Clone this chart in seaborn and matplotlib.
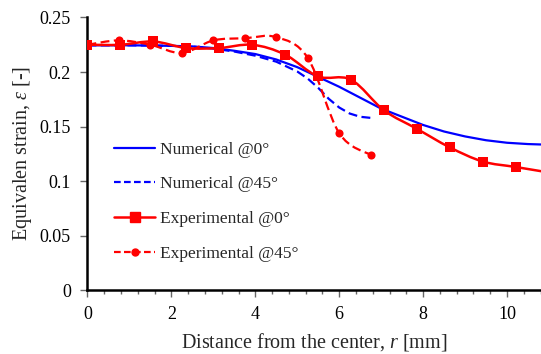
import numpy as np
import pandas as pd
import seaborn as sns
import matplotlib
matplotlib.use("Agg")
import matplotlib.pyplot as plt
from matplotlib.path import Path
from matplotlib.patches import PathPatch
from matplotlib.lines import Line2D
from matplotlib.ticker import MultipleLocator

# ---- data -------------------------------------------------------------
num0_r = [0, 0.5, 1, 1.5, 2, 2.5, 3, 3.5, 4, 4.5, 5, 5.5, 6, 6.5, 7,
          7.5, 8, 8.5, 9, 9.5, 10, 10.5, 10.9]
num0_eps = [0.2245, 0.2245, 0.2245, 0.2243, 0.2240, 0.2235, 0.2220, 0.2195,
            0.2165, 0.2115, 0.2045, 0.1955, 0.1865, 0.1765, 0.1665, 0.1590,
            0.1515, 0.1455, 0.1410, 0.1375, 0.1352, 0.1340, 0.1335]

num45_r = [0, 0.5, 1, 1.5, 2, 2.5, 3, 3.5, 4, 4.5, 5, 5.25, 5.5, 5.75,
           6, 6.25, 6.5, 6.75]
num45_eps = [0.2245, 0.2245, 0.2245, 0.2243, 0.2240, 0.2233, 0.2215, 0.2188,
             0.2150, 0.2095, 0.2005, 0.1940, 0.1855, 0.1755, 0.1675, 0.1620,
             0.1590, 0.1580]

exp0_r = [0, 0.785, 1.57, 2.355, 3.14, 3.925, 4.71, 5.495, 6.28, 7.065,
          7.85, 8.635, 9.42, 10.205, 10.99]
exp0_eps = [0.225, 0.225, 0.228, 0.222, 0.222, 0.225, 0.216, 0.196, 0.193,
            0.165, 0.148, 0.131, 0.118, 0.113, 0.108]

exp45_r = [0, 0.75, 1.5, 2.25, 3.0, 3.75, 4.5, 5.25, 6.0, 6.75]
exp45_eps = [0.225, 0.229, 0.225, 0.2175, 0.229, 0.231, 0.232, 0.213,
             0.144, 0.124]

x_ticks = [0, 2, 4, 6, 8, 10]
y_ticks = [0, 0.05, 0.1, 0.15, 0.2, 0.25]
y_tick_labels = ["0", "0.05", "0.1", "0.15", "0.2", "0.25"]

labels = ["Numerical @0°", "Numerical @45°",
          "Experimental @0°", "Experimental @45°"]

BLUE = "#0000FF"
RED = "#FF0000"

# ---- style ------------------------------------------------------------
sns.set_theme(style="ticks")
plt.rcParams["font.family"] = ["Liberation Serif", "DejaVu Serif"]
plt.rcParams["mathtext.fontset"] = "custom"
plt.rcParams["mathtext.rm"] = "Liberation Serif"
plt.rcParams["mathtext.it"] = "Liberation Serif:italic"
TICK_FS = 13
TITLE_FS = 14.5
LEGEND_FS = 12.5

fig = plt.figure(figsize=(5.41, 3.54), dpi=100)
ax = fig.add_axes([0.1617, 0.18, 1 - 0.1617, 0.7706])


def smooth_path(xs, ys):
    """Cubic Bezier path through the points (Catmull-Rom style smoothing)."""
    p = np.column_stack([xs, ys]).astype(float)
    n = len(p)
    verts = [p[0]]
    codes = [Path.MOVETO]
    for i in range(n - 1):
        p0 = p[i - 1] if i > 0 else p[i]
        p1 = p[i]
        p2 = p[i + 1]
        p3 = p[i + 2] if i + 2 < n else p[i + 1]
        c1 = p1 + (p2 - p0) / 6.0
        c2 = p2 - (p3 - p1) / 6.0
        verts += [c1, c2, p2]
        codes += [Path.CURVE4] * 3
    return Path(np.array(verts), codes)


# numerical curves
sns.lineplot(x=num0_r, y=num0_eps, ax=ax, color=BLUE, lw=1.6, sort=False)
sns.lineplot(x=num45_r, y=num45_eps, ax=ax, color=BLUE, lw=1.6, sort=False,
             linestyle=(0, (4, 2)))

# experimental curves: smoothed line + markers
ax.add_patch(PathPatch(smooth_path(exp0_r, exp0_eps), fill=False,
                       edgecolor=RED, lw=1.8, zorder=3))
ax.add_patch(PathPatch(smooth_path(exp45_r, exp45_eps), fill=False,
                       edgecolor=RED, lw=1.6, linestyle=(0, (4, 2)), zorder=3))
sns.scatterplot(x=exp0_r, y=exp0_eps, ax=ax, marker="s", s=62, color=RED,
                edgecolor=RED, linewidth=0, zorder=4)
sns.scatterplot(x=exp45_r, y=exp45_eps, ax=ax, marker="o", s=34, color=RED,
                edgecolor=RED, linewidth=0, zorder=4)

# ---- axes -------------------------------------------------------------
ax.set_xlim(0, 10.81)
ax.set_ylim(0, 0.25)
ax.set_xticks(x_ticks)
ax.xaxis.set_minor_locator(MultipleLocator(0.4))
ax.set_yticks(y_ticks)
ax.set_yticklabels(y_tick_labels)
ax.tick_params(axis="both", which="major", direction="out", length=5,
               width=1.0, color="#666666", labelsize=TICK_FS,
               labelcolor="black")
ax.tick_params(axis="x", which="major", pad=6)
ax.tick_params(axis="y", which="major", pad=7)
ax.tick_params(axis="x", which="minor", direction="out", length=3,
               width=1.0, color="#666666")
for side in ("top", "right"):
    ax.spines[side].set_visible(False)
for side in ("left", "bottom"):
    ax.spines[side].set_linewidth(1.8)
    ax.spines[side].set_color("black")

ax.set_xlabel("Distance from the center, $r$ [mm]", fontsize=TITLE_FS,
              labelpad=6)
ax.set_ylabel(r"Equivalen strain, $\varepsilon$ [-]", fontsize=TITLE_FS,
              labelpad=4)

handles = [
    Line2D([], [], color=BLUE, lw=1.6),
    Line2D([], [], color=BLUE, lw=1.6, linestyle=(0, (3, 1.5))),
    Line2D([], [], color=RED, lw=1.8, marker="s", markersize=7),
    Line2D([], [], color=RED, lw=1.6, linestyle=(0, (3, 1.5)), marker="o",
           markersize=5),
]
ax.legend(handles, labels, loc="upper left", bbox_to_anchor=(0.058, 0.545),
          frameon=False, fontsize=LEGEND_FS, handlelength=2.4,
          handletextpad=0.25, labelspacing=1.07, borderpad=0,
          borderaxespad=0)

fig.savefig("out.png", dpi=100)
